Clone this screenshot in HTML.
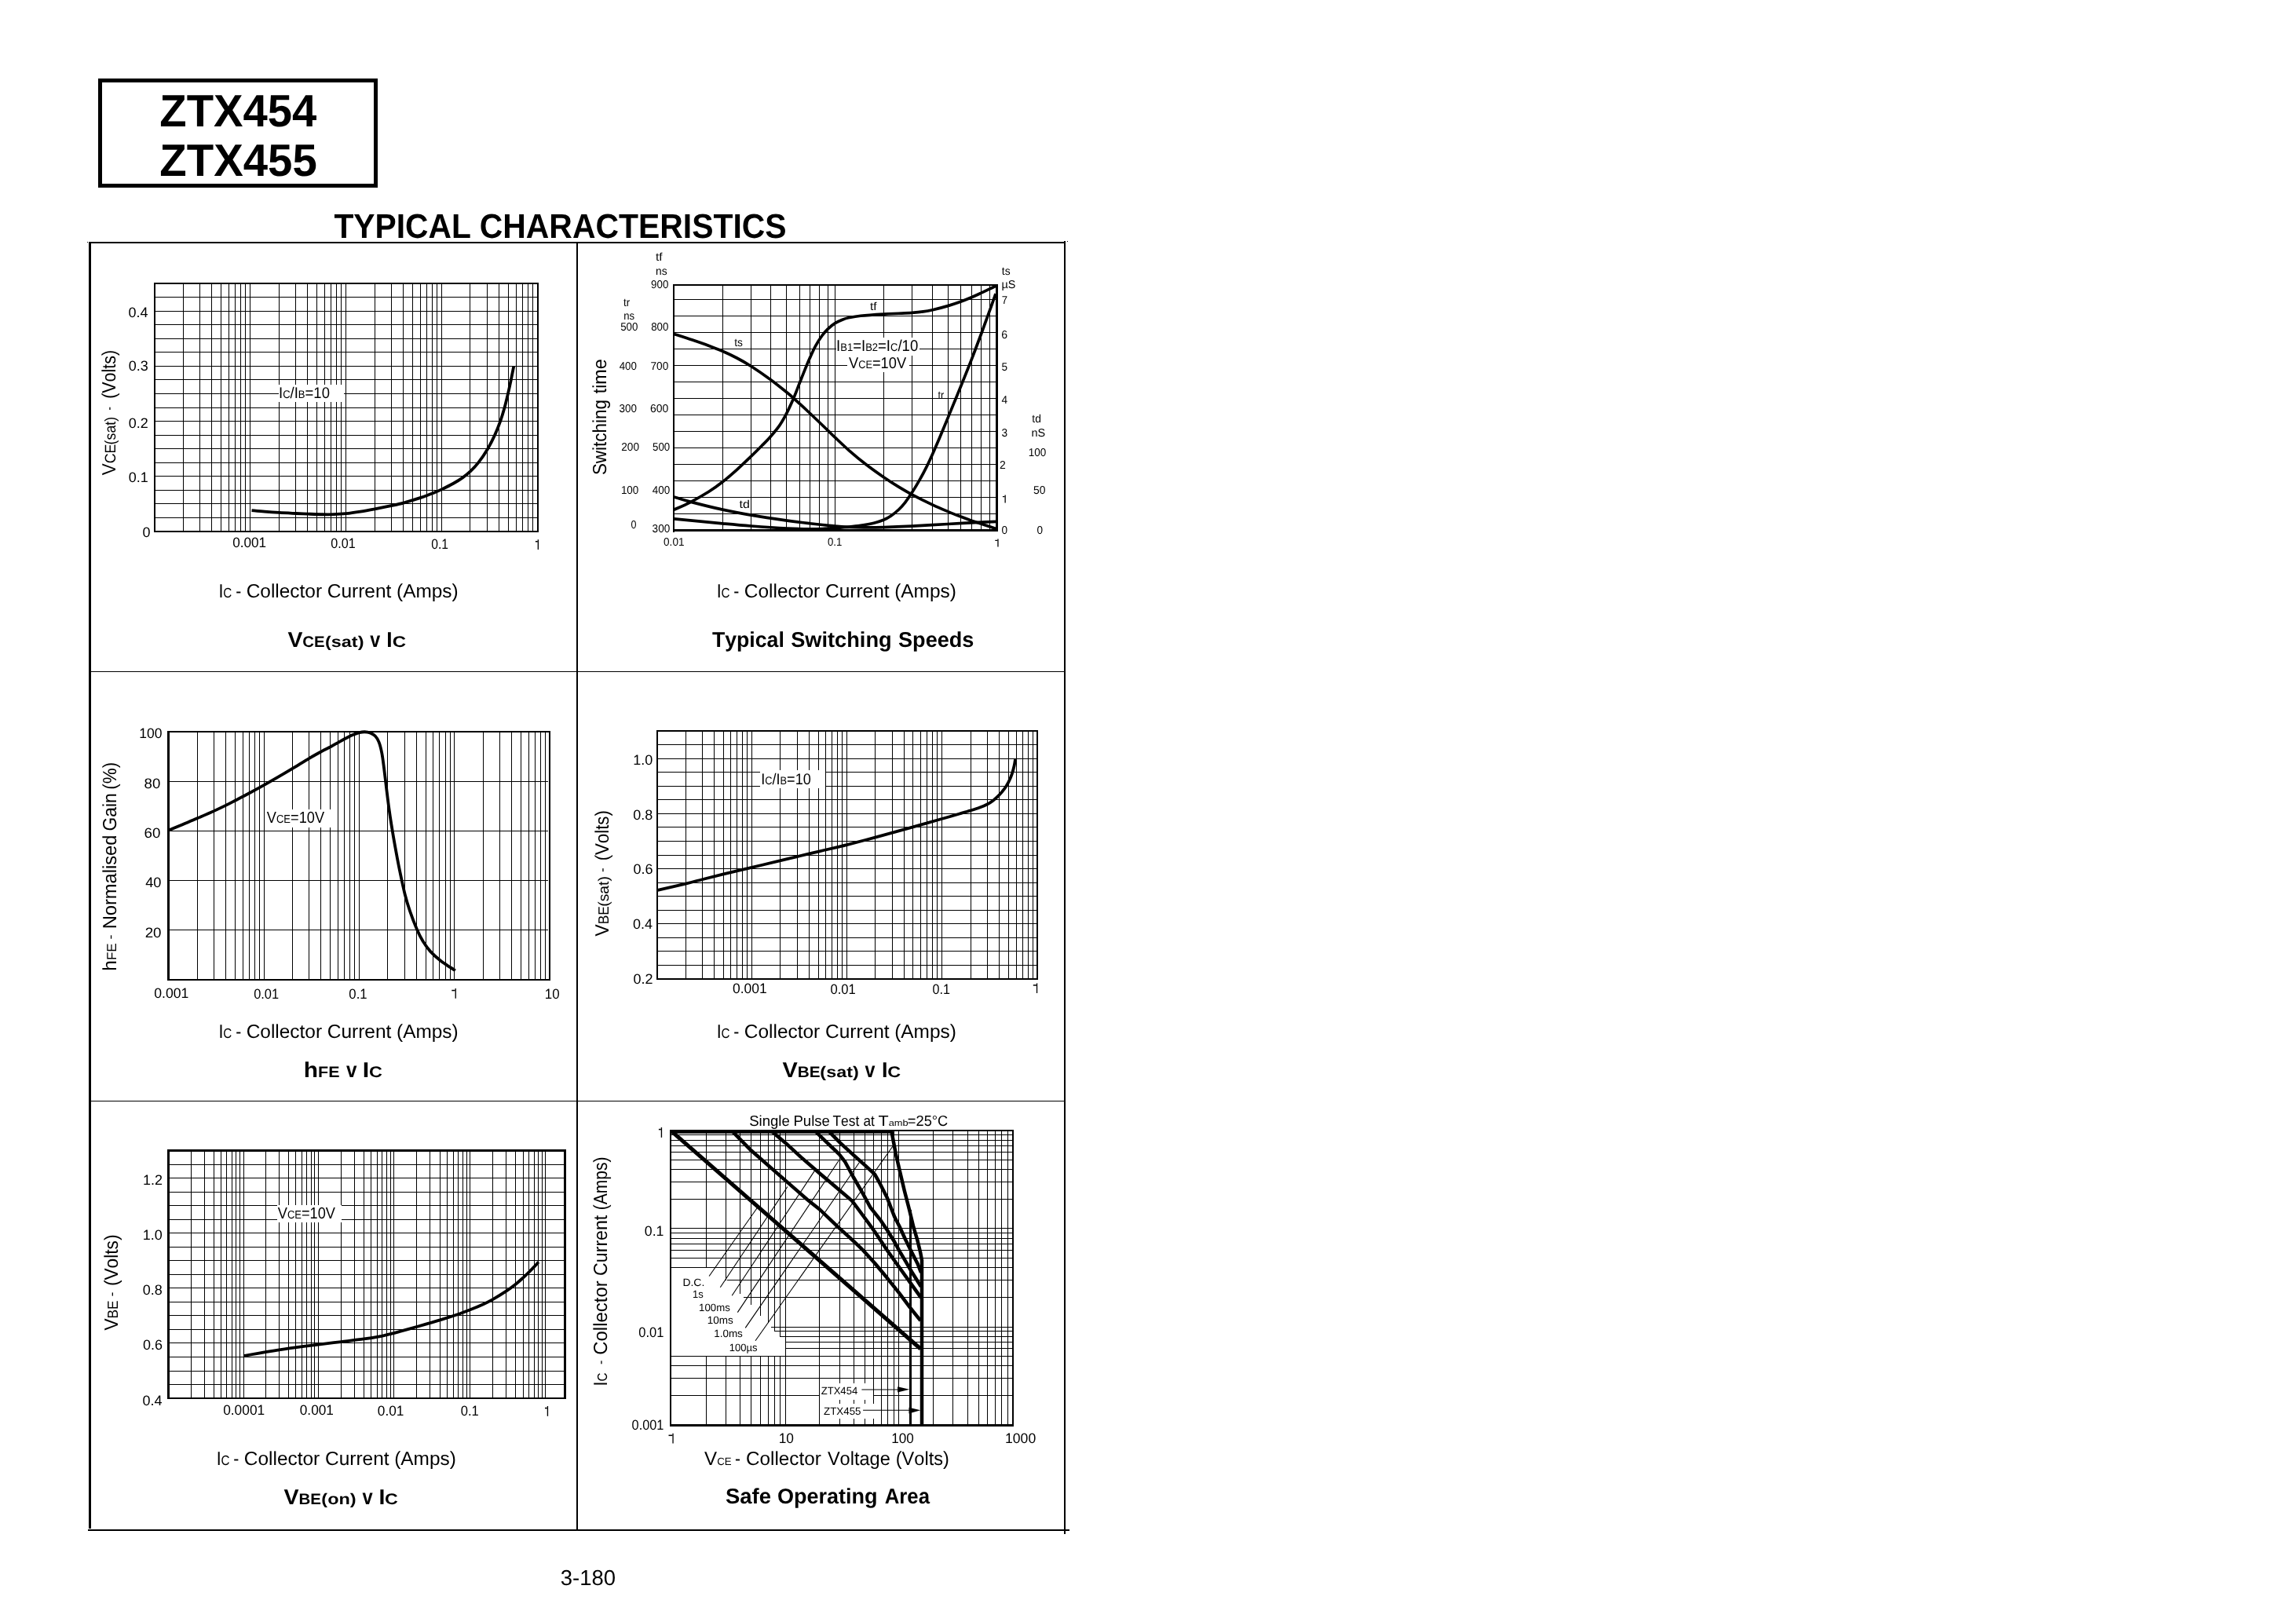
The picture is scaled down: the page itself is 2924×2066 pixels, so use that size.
<!DOCTYPE html>
<html><head><meta charset="utf-8"><title>ZTX454 ZTX455 Typical Characteristics</title>
<style>html,body{margin:0;padding:0;background:#fff;}svg{display:block;filter:grayscale(1);}text{font-family:"Liberation Sans",sans-serif;fill:#000;white-space:pre;font-kerning:none;text-rendering:geometricPrecision;}</style>
</head><body>
<svg width="2924" height="2066" viewBox="0 0 2924 2066">
<rect x="0" y="0" width="2924" height="2066" fill="#fff"/>
<g shape-rendering="crispEdges">
<rect x="125" y="100" width="356" height="5" fill="#000"/>
<rect x="125" y="234" width="356" height="5" fill="#000"/>
<rect x="125" y="100" width="5" height="139" fill="#000"/>
<rect x="476" y="100" width="5" height="139" fill="#000"/>
<rect x="113" y="308" width="3" height="1639" fill="#000"/>
<rect x="113" y="308" width="1244" height="2" fill="#000"/>
<rect x="1355" y="307" width="2" height="1647" fill="#000"/>
<rect x="112" y="1948" width="1250" height="2" fill="#000"/>
<rect x="734" y="310" width="2" height="1638" fill="#000"/>
<rect x="116" y="855" width="1239" height="1" fill="#000"/>
<rect x="116" y="1402" width="1239" height="1" fill="#000"/>
<rect x="111" y="308" width="1" height="1" fill="#000"/>
<rect x="1359" y="307" width="1" height="1" fill="#000"/>
<rect x="196" y="360" width="490" height="2" fill="#000"/>
<rect x="196" y="676" width="490" height="2" fill="#000"/>
<rect x="196" y="360" width="2" height="318" fill="#000"/>
<rect x="684" y="360" width="2" height="318" fill="#000"/>
<rect x="233" y="361" width="1" height="316" fill="#000"/>
<rect x="254" y="361" width="1" height="316" fill="#000"/>
<rect x="269" y="361" width="1" height="316" fill="#000"/>
<rect x="281" y="361" width="1" height="316" fill="#000"/>
<rect x="291" y="361" width="1" height="316" fill="#000"/>
<rect x="299" y="361" width="1" height="316" fill="#000"/>
<rect x="306" y="361" width="1" height="316" fill="#000"/>
<rect x="312" y="361" width="1" height="316" fill="#000"/>
<rect x="318" y="361" width="1" height="316" fill="#000"/>
<rect x="355" y="361" width="1" height="316" fill="#000"/>
<rect x="376" y="361" width="1" height="316" fill="#000"/>
<rect x="391" y="361" width="1" height="316" fill="#000"/>
<rect x="403" y="361" width="1" height="316" fill="#000"/>
<rect x="413" y="361" width="1" height="316" fill="#000"/>
<rect x="421" y="361" width="1" height="316" fill="#000"/>
<rect x="428" y="361" width="1" height="316" fill="#000"/>
<rect x="434" y="361" width="1" height="316" fill="#000"/>
<rect x="440" y="361" width="1" height="316" fill="#000"/>
<rect x="477" y="361" width="1" height="316" fill="#000"/>
<rect x="498" y="361" width="1" height="316" fill="#000"/>
<rect x="513" y="361" width="1" height="316" fill="#000"/>
<rect x="525" y="361" width="1" height="316" fill="#000"/>
<rect x="535" y="361" width="1" height="316" fill="#000"/>
<rect x="543" y="361" width="1" height="316" fill="#000"/>
<rect x="550" y="361" width="1" height="316" fill="#000"/>
<rect x="556" y="361" width="1" height="316" fill="#000"/>
<rect x="562" y="361" width="1" height="316" fill="#000"/>
<rect x="598" y="361" width="1" height="316" fill="#000"/>
<rect x="620" y="361" width="1" height="316" fill="#000"/>
<rect x="635" y="361" width="1" height="316" fill="#000"/>
<rect x="647" y="361" width="1" height="316" fill="#000"/>
<rect x="657" y="361" width="1" height="316" fill="#000"/>
<rect x="665" y="361" width="1" height="316" fill="#000"/>
<rect x="672" y="361" width="1" height="316" fill="#000"/>
<rect x="678" y="361" width="1" height="316" fill="#000"/>
<rect x="197" y="659" width="488" height="1" fill="#000"/>
<rect x="197" y="641" width="488" height="1" fill="#000"/>
<rect x="197" y="624" width="488" height="1" fill="#000"/>
<rect x="197" y="606" width="488" height="1" fill="#000"/>
<rect x="197" y="589" width="488" height="1" fill="#000"/>
<rect x="197" y="571" width="488" height="1" fill="#000"/>
<rect x="197" y="554" width="488" height="1" fill="#000"/>
<rect x="197" y="536" width="488" height="1" fill="#000"/>
<rect x="197" y="519" width="488" height="1" fill="#000"/>
<rect x="197" y="501" width="488" height="1" fill="#000"/>
<rect x="197" y="483" width="488" height="1" fill="#000"/>
<rect x="197" y="466" width="488" height="1" fill="#000"/>
<rect x="197" y="448" width="488" height="1" fill="#000"/>
<rect x="197" y="431" width="488" height="1" fill="#000"/>
<rect x="197" y="413" width="488" height="1" fill="#000"/>
<rect x="197" y="396" width="488" height="1" fill="#000"/>
<rect x="197" y="378" width="488" height="1" fill="#000"/>
<rect x="354.9" y="489.9" width="83.1" height="22.2" fill="#fff"/>
<rect x="857" y="362" width="414" height="2" fill="#000"/>
<rect x="857" y="674" width="414" height="3" fill="#000"/>
<rect x="857" y="362" width="2" height="316" fill="#000"/>
<rect x="1268" y="362" width="3" height="315" fill="#000"/>
<rect x="920" y="363" width="1" height="312.5" fill="#000"/>
<rect x="956" y="363" width="1" height="312.5" fill="#000"/>
<rect x="981" y="363" width="1" height="312.5" fill="#000"/>
<rect x="1001" y="363" width="1" height="312.5" fill="#000"/>
<rect x="1018" y="363" width="1" height="312.5" fill="#000"/>
<rect x="1031" y="363" width="1" height="312.5" fill="#000"/>
<rect x="1043" y="363" width="1" height="312.5" fill="#000"/>
<rect x="1054" y="363" width="1" height="312.5" fill="#000"/>
<rect x="1063" y="363" width="1" height="312.5" fill="#000"/>
<rect x="1125" y="363" width="1" height="312.5" fill="#000"/>
<rect x="1161" y="363" width="1" height="312.5" fill="#000"/>
<rect x="1187" y="363" width="1" height="312.5" fill="#000"/>
<rect x="1207" y="363" width="1" height="312.5" fill="#000"/>
<rect x="1223" y="363" width="1" height="312.5" fill="#000"/>
<rect x="1237" y="363" width="1" height="312.5" fill="#000"/>
<rect x="1249" y="363" width="1" height="312.5" fill="#000"/>
<rect x="1260" y="363" width="1" height="312.5" fill="#000"/>
<rect x="858" y="654" width="412" height="1" fill="#000"/>
<rect x="858" y="633" width="412" height="1" fill="#000"/>
<rect x="858" y="612" width="412" height="1" fill="#000"/>
<rect x="858" y="591" width="412" height="1" fill="#000"/>
<rect x="858" y="570" width="412" height="1" fill="#000"/>
<rect x="858" y="549" width="412" height="1" fill="#000"/>
<rect x="858" y="528" width="412" height="1" fill="#000"/>
<rect x="858" y="507" width="412" height="1" fill="#000"/>
<rect x="858" y="486" width="412" height="1" fill="#000"/>
<rect x="858" y="465" width="412" height="1" fill="#000"/>
<rect x="858" y="444" width="412" height="1" fill="#000"/>
<rect x="858" y="423" width="412" height="1" fill="#000"/>
<rect x="858" y="402" width="412" height="1" fill="#000"/>
<rect x="858" y="381" width="412" height="1" fill="#000"/>
<rect x="1064.6" y="429.6" width="106.4" height="23.5" fill="#fff"/>
<rect x="1079" y="453" width="78.9" height="21.1" fill="#fff"/>
<rect x="213" y="931" width="488" height="2" fill="#000"/>
<rect x="213" y="1247" width="488" height="2" fill="#000"/>
<rect x="213" y="931" width="3" height="318" fill="#000"/>
<rect x="699" y="931" width="2" height="318" fill="#000"/>
<rect x="251" y="932.3" width="1" height="315.1" fill="#000"/>
<rect x="272" y="932.3" width="1" height="315.1" fill="#000"/>
<rect x="287" y="932.3" width="1" height="315.1" fill="#000"/>
<rect x="299" y="932.3" width="1" height="315.1" fill="#000"/>
<rect x="309" y="932.3" width="1" height="315.1" fill="#000"/>
<rect x="317" y="932.3" width="1" height="315.1" fill="#000"/>
<rect x="324" y="932.3" width="1" height="315.1" fill="#000"/>
<rect x="330" y="932.3" width="1" height="315.1" fill="#000"/>
<rect x="336" y="932.3" width="1" height="315.1" fill="#000"/>
<rect x="372" y="932.3" width="1" height="315.1" fill="#000"/>
<rect x="393" y="932.3" width="1" height="315.1" fill="#000"/>
<rect x="408" y="932.3" width="1" height="315.1" fill="#000"/>
<rect x="420" y="932.3" width="1" height="315.1" fill="#000"/>
<rect x="430" y="932.3" width="1" height="315.1" fill="#000"/>
<rect x="438" y="932.3" width="1" height="315.1" fill="#000"/>
<rect x="445" y="932.3" width="1" height="315.1" fill="#000"/>
<rect x="451" y="932.3" width="1" height="315.1" fill="#000"/>
<rect x="457" y="932.3" width="1" height="315.1" fill="#000"/>
<rect x="493" y="932.3" width="1" height="315.1" fill="#000"/>
<rect x="515" y="932.3" width="1" height="315.1" fill="#000"/>
<rect x="530" y="932.3" width="1" height="315.1" fill="#000"/>
<rect x="542" y="932.3" width="1" height="315.1" fill="#000"/>
<rect x="551" y="932.3" width="1" height="315.1" fill="#000"/>
<rect x="559" y="932.3" width="1" height="315.1" fill="#000"/>
<rect x="567" y="932.3" width="1" height="315.1" fill="#000"/>
<rect x="573" y="932.3" width="1" height="315.1" fill="#000"/>
<rect x="578" y="932.3" width="1" height="315.1" fill="#000"/>
<rect x="615" y="932.3" width="1" height="315.1" fill="#000"/>
<rect x="636" y="932.3" width="1" height="315.1" fill="#000"/>
<rect x="651" y="932.3" width="1" height="315.1" fill="#000"/>
<rect x="663" y="932.3" width="1" height="315.1" fill="#000"/>
<rect x="673" y="932.3" width="1" height="315.1" fill="#000"/>
<rect x="681" y="932.3" width="1" height="315.1" fill="#000"/>
<rect x="688" y="932.3" width="1" height="315.1" fill="#000"/>
<rect x="694" y="932.3" width="1" height="315.1" fill="#000"/>
<rect x="215" y="1184" width="482.6" height="1" fill="#000"/>
<rect x="215" y="1121" width="482.6" height="1" fill="#000"/>
<rect x="215" y="1058" width="482.6" height="1" fill="#000"/>
<rect x="215" y="995" width="482.6" height="1" fill="#000"/>
<rect x="338" y="1030.7" width="85" height="23.2" fill="#fff"/>
<rect x="836" y="930" width="486" height="2" fill="#000"/>
<rect x="836" y="1246" width="486" height="2" fill="#000"/>
<rect x="836" y="930" width="2" height="318" fill="#000"/>
<rect x="1320" y="930" width="2" height="318" fill="#000"/>
<rect x="873" y="931.1" width="1" height="315.8" fill="#000"/>
<rect x="894" y="931.1" width="1" height="315.8" fill="#000"/>
<rect x="909" y="931.1" width="1" height="315.8" fill="#000"/>
<rect x="921" y="931.1" width="1" height="315.8" fill="#000"/>
<rect x="930" y="931.1" width="1" height="315.8" fill="#000"/>
<rect x="938" y="931.1" width="1" height="315.8" fill="#000"/>
<rect x="945" y="931.1" width="1" height="315.8" fill="#000"/>
<rect x="951" y="931.1" width="1" height="315.8" fill="#000"/>
<rect x="957" y="931.1" width="1" height="315.8" fill="#000"/>
<rect x="993" y="931.1" width="1" height="315.8" fill="#000"/>
<rect x="1015" y="931.1" width="1" height="315.8" fill="#000"/>
<rect x="1030" y="931.1" width="1" height="315.8" fill="#000"/>
<rect x="1042" y="931.1" width="1" height="315.8" fill="#000"/>
<rect x="1051" y="931.1" width="1" height="315.8" fill="#000"/>
<rect x="1059" y="931.1" width="1" height="315.8" fill="#000"/>
<rect x="1066" y="931.1" width="1" height="315.8" fill="#000"/>
<rect x="1072" y="931.1" width="1" height="315.8" fill="#000"/>
<rect x="1078" y="931.1" width="1" height="315.8" fill="#000"/>
<rect x="1114" y="931.1" width="1" height="315.8" fill="#000"/>
<rect x="1136" y="931.1" width="1" height="315.8" fill="#000"/>
<rect x="1151" y="931.1" width="1" height="315.8" fill="#000"/>
<rect x="1162" y="931.1" width="1" height="315.8" fill="#000"/>
<rect x="1172" y="931.1" width="1" height="315.8" fill="#000"/>
<rect x="1180" y="931.1" width="1" height="315.8" fill="#000"/>
<rect x="1187" y="931.1" width="1" height="315.8" fill="#000"/>
<rect x="1193" y="931.1" width="1" height="315.8" fill="#000"/>
<rect x="1199" y="931.1" width="1" height="315.8" fill="#000"/>
<rect x="1236" y="931.1" width="1" height="315.8" fill="#000"/>
<rect x="1257" y="931.1" width="1" height="315.8" fill="#000"/>
<rect x="1272" y="931.1" width="1" height="315.8" fill="#000"/>
<rect x="1284" y="931.1" width="1" height="315.8" fill="#000"/>
<rect x="1294" y="931.1" width="1" height="315.8" fill="#000"/>
<rect x="1302" y="931.1" width="1" height="315.8" fill="#000"/>
<rect x="1309" y="931.1" width="1" height="315.8" fill="#000"/>
<rect x="1315" y="931.1" width="1" height="315.8" fill="#000"/>
<rect x="836.8" y="1229" width="484.4" height="1" fill="#000"/>
<rect x="836.8" y="1211" width="484.4" height="1" fill="#000"/>
<rect x="836.8" y="1194" width="484.4" height="1" fill="#000"/>
<rect x="836.8" y="1176" width="484.4" height="1" fill="#000"/>
<rect x="836.8" y="1159" width="484.4" height="1" fill="#000"/>
<rect x="836.8" y="1141" width="484.4" height="1" fill="#000"/>
<rect x="836.8" y="1124" width="484.4" height="1" fill="#000"/>
<rect x="836.8" y="1106" width="484.4" height="1" fill="#000"/>
<rect x="836.8" y="1089" width="484.4" height="1" fill="#000"/>
<rect x="836.8" y="1071" width="484.4" height="1" fill="#000"/>
<rect x="836.8" y="1053" width="484.4" height="1" fill="#000"/>
<rect x="836.8" y="1036" width="484.4" height="1" fill="#000"/>
<rect x="836.8" y="1018" width="484.4" height="1" fill="#000"/>
<rect x="836.8" y="1001" width="484.4" height="1" fill="#000"/>
<rect x="836.8" y="983" width="484.4" height="1" fill="#000"/>
<rect x="836.8" y="966" width="484.4" height="1" fill="#000"/>
<rect x="836.8" y="948" width="484.4" height="1" fill="#000"/>
<rect x="968" y="980.7" width="82.9" height="23.2" fill="#fff"/>
<rect x="213" y="1464" width="508" height="3" fill="#000"/>
<rect x="213" y="1780" width="508" height="2" fill="#000"/>
<rect x="213" y="1464" width="3" height="318" fill="#000"/>
<rect x="718" y="1464" width="3" height="318" fill="#000"/>
<rect x="243" y="1465.6" width="1" height="315.5" fill="#000"/>
<rect x="260" y="1465.6" width="1" height="315.5" fill="#000"/>
<rect x="272" y="1465.6" width="1" height="315.5" fill="#000"/>
<rect x="281" y="1465.6" width="1" height="315.5" fill="#000"/>
<rect x="288" y="1465.6" width="1" height="315.5" fill="#000"/>
<rect x="295" y="1465.6" width="1" height="315.5" fill="#000"/>
<rect x="300" y="1465.6" width="1" height="315.5" fill="#000"/>
<rect x="305" y="1465.6" width="1" height="315.5" fill="#000"/>
<rect x="310" y="1465.6" width="1" height="315.5" fill="#000"/>
<rect x="338" y="1465.6" width="1" height="315.5" fill="#000"/>
<rect x="355" y="1465.6" width="1" height="315.5" fill="#000"/>
<rect x="367" y="1465.6" width="1" height="315.5" fill="#000"/>
<rect x="376" y="1465.6" width="1" height="315.5" fill="#000"/>
<rect x="384" y="1465.6" width="1" height="315.5" fill="#000"/>
<rect x="390" y="1465.6" width="1" height="315.5" fill="#000"/>
<rect x="396" y="1465.6" width="1" height="315.5" fill="#000"/>
<rect x="400" y="1465.6" width="1" height="315.5" fill="#000"/>
<rect x="405" y="1465.6" width="1" height="315.5" fill="#000"/>
<rect x="434" y="1465.6" width="1" height="315.5" fill="#000"/>
<rect x="451" y="1465.6" width="1" height="315.5" fill="#000"/>
<rect x="463" y="1465.6" width="1" height="315.5" fill="#000"/>
<rect x="472" y="1465.6" width="1" height="315.5" fill="#000"/>
<rect x="480" y="1465.6" width="1" height="315.5" fill="#000"/>
<rect x="486" y="1465.6" width="1" height="315.5" fill="#000"/>
<rect x="492" y="1465.6" width="1" height="315.5" fill="#000"/>
<rect x="497" y="1465.6" width="1" height="315.5" fill="#000"/>
<rect x="501" y="1465.6" width="1" height="315.5" fill="#000"/>
<rect x="530" y="1465.6" width="1" height="315.5" fill="#000"/>
<rect x="547" y="1465.6" width="1" height="315.5" fill="#000"/>
<rect x="560" y="1465.6" width="1" height="315.5" fill="#000"/>
<rect x="569" y="1465.6" width="1" height="315.5" fill="#000"/>
<rect x="577" y="1465.6" width="1" height="315.5" fill="#000"/>
<rect x="583" y="1465.6" width="1" height="315.5" fill="#000"/>
<rect x="589" y="1465.6" width="1" height="315.5" fill="#000"/>
<rect x="594" y="1465.6" width="1" height="315.5" fill="#000"/>
<rect x="598" y="1465.6" width="1" height="315.5" fill="#000"/>
<rect x="627" y="1465.6" width="1" height="315.5" fill="#000"/>
<rect x="644" y="1465.6" width="1" height="315.5" fill="#000"/>
<rect x="656" y="1465.6" width="1" height="315.5" fill="#000"/>
<rect x="666" y="1465.6" width="1" height="315.5" fill="#000"/>
<rect x="673" y="1465.6" width="1" height="315.5" fill="#000"/>
<rect x="680" y="1465.6" width="1" height="315.5" fill="#000"/>
<rect x="685" y="1465.6" width="1" height="315.5" fill="#000"/>
<rect x="690" y="1465.6" width="1" height="315.5" fill="#000"/>
<rect x="694" y="1465.6" width="1" height="315.5" fill="#000"/>
<rect x="214.9" y="1763" width="504.4" height="1" fill="#000"/>
<rect x="214.9" y="1746" width="504.4" height="1" fill="#000"/>
<rect x="214.9" y="1728" width="504.4" height="1" fill="#000"/>
<rect x="214.9" y="1710" width="504.4" height="1" fill="#000"/>
<rect x="214.9" y="1693" width="504.4" height="1" fill="#000"/>
<rect x="214.9" y="1675" width="504.4" height="1" fill="#000"/>
<rect x="214.9" y="1658" width="504.4" height="1" fill="#000"/>
<rect x="214.9" y="1640" width="504.4" height="1" fill="#000"/>
<rect x="214.9" y="1623" width="504.4" height="1" fill="#000"/>
<rect x="214.9" y="1605" width="504.4" height="1" fill="#000"/>
<rect x="214.9" y="1588" width="504.4" height="1" fill="#000"/>
<rect x="214.9" y="1570" width="504.4" height="1" fill="#000"/>
<rect x="214.9" y="1553" width="504.4" height="1" fill="#000"/>
<rect x="214.9" y="1535" width="504.4" height="1" fill="#000"/>
<rect x="214.9" y="1518" width="504.4" height="1" fill="#000"/>
<rect x="214.9" y="1500" width="504.4" height="1" fill="#000"/>
<rect x="214.9" y="1483" width="504.4" height="1" fill="#000"/>
<rect x="353" y="1535" width="82.1" height="22.1" fill="#fff"/>
<rect x="853" y="1439" width="2" height="378" fill="#000"/>
<rect x="1289" y="1439" width="2" height="378" fill="#000"/>
<rect x="853" y="1439" width="438" height="2" fill="#000"/>
<rect x="853" y="1814" width="438" height="3" fill="#000"/>
<rect x="899" y="1440" width="1" height="174.5" fill="#000"/>
<rect x="899" y="1727.2" width="1" height="88.3" fill="#000"/>
<rect x="924" y="1440" width="1" height="190.5" fill="#000"/>
<rect x="924" y="1727.2" width="1" height="88.3" fill="#000"/>
<rect x="942" y="1440" width="1" height="207.5" fill="#000"/>
<rect x="942" y="1727.2" width="1" height="88.3" fill="#000"/>
<rect x="956" y="1440" width="1" height="222.4" fill="#000"/>
<rect x="956" y="1727.2" width="1" height="88.3" fill="#000"/>
<rect x="968" y="1440" width="1" height="235.8" fill="#000"/>
<rect x="968" y="1727.2" width="1" height="88.3" fill="#000"/>
<rect x="978" y="1440" width="1" height="245" fill="#000"/>
<rect x="978" y="1727.2" width="1" height="88.3" fill="#000"/>
<rect x="986" y="1440" width="1" height="255" fill="#000"/>
<rect x="986" y="1727.2" width="1" height="88.3" fill="#000"/>
<rect x="993" y="1440" width="1" height="262.2" fill="#000"/>
<rect x="993" y="1727.2" width="1" height="88.3" fill="#000"/>
<rect x="1000" y="1440" width="1" height="375.5" fill="#000"/>
<rect x="1043" y="1440" width="1" height="375.5" fill="#000"/>
<rect x="1069" y="1440" width="1" height="322" fill="#000"/>
<rect x="1069" y="1782.5" width="1" height="5" fill="#000"/>
<rect x="1069" y="1807" width="1" height="8.5" fill="#000"/>
<rect x="1087" y="1440" width="1" height="322" fill="#000"/>
<rect x="1087" y="1782.5" width="1" height="5" fill="#000"/>
<rect x="1087" y="1807" width="1" height="8.5" fill="#000"/>
<rect x="1101" y="1440" width="1" height="322" fill="#000"/>
<rect x="1101" y="1782.5" width="1" height="5" fill="#000"/>
<rect x="1101" y="1807" width="1" height="8.5" fill="#000"/>
<rect x="1112" y="1440" width="1" height="347.5" fill="#000"/>
<rect x="1112" y="1807" width="1" height="8.5" fill="#000"/>
<rect x="1122" y="1440" width="1" height="375.5" fill="#000"/>
<rect x="1130" y="1440" width="1" height="375.5" fill="#000"/>
<rect x="1138" y="1440" width="1" height="375.5" fill="#000"/>
<rect x="1144" y="1440" width="1" height="375.5" fill="#000"/>
<rect x="1188" y="1440" width="1" height="375.5" fill="#000"/>
<rect x="1213" y="1440" width="1" height="375.5" fill="#000"/>
<rect x="1232" y="1440" width="1" height="375.5" fill="#000"/>
<rect x="1246" y="1440" width="1" height="375.5" fill="#000"/>
<rect x="1257" y="1440" width="1" height="375.5" fill="#000"/>
<rect x="1267" y="1440" width="1" height="375.5" fill="#000"/>
<rect x="1275" y="1440" width="1" height="375.5" fill="#000"/>
<rect x="1283" y="1440" width="1" height="375.5" fill="#000"/>
<rect x="854" y="1445" width="436" height="1" fill="#000"/>
<rect x="854" y="1452" width="436" height="1" fill="#000"/>
<rect x="854" y="1459" width="436" height="1" fill="#000"/>
<rect x="854" y="1467" width="436" height="1" fill="#000"/>
<rect x="854" y="1477" width="436" height="1" fill="#000"/>
<rect x="854" y="1489" width="436" height="1" fill="#000"/>
<rect x="854" y="1505" width="436" height="1" fill="#000"/>
<rect x="854" y="1527" width="436" height="1" fill="#000"/>
<rect x="854" y="1564" width="436" height="1" fill="#000"/>
<rect x="854" y="1570" width="436" height="1" fill="#000"/>
<rect x="854" y="1577" width="436" height="1" fill="#000"/>
<rect x="854" y="1584" width="436" height="1" fill="#000"/>
<rect x="854" y="1592" width="436" height="1" fill="#000"/>
<rect x="854" y="1602" width="436" height="1" fill="#000"/>
<rect x="854" y="1614" width="436" height="1" fill="#000"/>
<rect x="926" y="1630" width="364" height="1" fill="#000"/>
<rect x="947" y="1652" width="343" height="1" fill="#000"/>
<rect x="981.8" y="1690" width="308.2" height="1" fill="#000"/>
<rect x="986" y="1695" width="304" height="1" fill="#000"/>
<rect x="993" y="1702" width="297" height="1" fill="#000"/>
<rect x="1000" y="1709" width="290" height="1" fill="#000"/>
<rect x="1000" y="1717" width="290" height="1" fill="#000"/>
<rect x="854" y="1727" width="436" height="1" fill="#000"/>
<rect x="854" y="1739" width="436" height="1" fill="#000"/>
<rect x="854" y="1755" width="436" height="1" fill="#000"/>
<rect x="854" y="1777" width="190" height="1" fill="#000"/>
<rect x="1112" y="1777" width="178" height="1" fill="#000"/>
</g>
<g>
<path d="M320.5 650.1 C323.25 650.36 331.16 651.18 337.01 651.66 C342.86 652.13 348.94 652.57 355.61 652.96 C362.27 653.35 370.84 653.7 377 653.98 C383.17 654.26 386.98 654.44 392.6 654.65 C398.22 654.86 405.3 655.15 410.7 655.25 C416.1 655.34 420.04 655.38 425 655.21 C429.95 655.03 434.78 654.79 440.45 654.18 C446.11 653.58 452.82 652.58 458.98 651.6 C465.14 650.62 470.64 649.58 477.4 648.3 C484.16 647.02 493.34 645.27 499.54 643.94 C505.75 642.61 508.61 641.98 514.65 640.31 C520.68 638.63 529.47 636 535.77 633.91 C542.07 631.82 547.99 629.51 552.44 627.75 C556.89 626 558.28 625.37 562.44 623.38 C566.6 621.38 572.95 618.27 577.41 615.76 C581.88 613.26 585.61 610.94 589.24 608.34 C592.88 605.75 595.86 603.44 599.23 600.21 C602.61 596.98 605.84 593.75 609.51 588.95 C613.18 584.16 617.79 577.33 621.27 571.45 C624.75 565.57 627.69 559.55 630.37 553.66 C633.04 547.78 635.32 541.78 637.32 536.14 C639.32 530.49 640.78 525.57 642.38 519.79 C643.99 514 645.57 507.32 646.96 501.41 C648.34 495.51 649.48 490.21 650.7 484.36 C651.92 478.51 653.7 469.31 654.3 466.3" fill="none" stroke="#000" stroke-width="3.8" stroke-linejoin="round" stroke-linecap="butt"/>
<path d="M858.4 425.5 C862.3 426.76 874.39 430.58 881.81 433.08 C889.22 435.58 896.53 438.11 902.91 440.48 C909.29 442.85 914.17 444.71 920.09 447.3 C926 449.88 932.38 452.84 938.4 456 C944.41 459.16 949.03 461.67 956.16 466.25 C963.29 470.83 973.52 477.86 981.21 483.49 C988.89 489.13 997.18 495.9 1002.29 500.03 C1007.39 504.17 1007 503.91 1011.83 508.28 C1016.66 512.64 1024.23 519.58 1031.28 526.23 C1038.33 532.88 1048.74 542.96 1054.14 548.16 C1059.54 553.36 1059.11 553.1 1063.69 557.41 C1068.27 561.72 1075.11 568.35 1081.63 574.04 C1088.15 579.74 1095.47 585.91 1102.8 591.58 C1110.13 597.24 1118.68 603.26 1125.62 608.03 C1132.55 612.8 1138.42 616.51 1144.44 620.18 C1150.45 623.85 1154.45 626.24 1161.69 630.06 C1168.92 633.88 1180.24 639.5 1187.84 643.1 C1195.44 646.7 1201.33 649.13 1207.27 651.63 C1213.21 654.13 1218.5 656.18 1223.5 658.1 C1228.5 660.03 1233.01 661.69 1237.28 663.18 C1241.54 664.68 1245.39 665.88 1249.1 667.08 C1252.82 668.29 1256.16 669.29 1259.56 670.41 C1262.96 671.53 1267.84 673.24 1269.5 673.8" fill="none" stroke="#000" stroke-width="3.7" stroke-linejoin="round" stroke-linecap="butt"/>
<path d="M858.4 649.3 C861.9 647.68 872.05 643.39 879.43 639.56 C886.8 635.72 895.9 630.56 902.65 626.3 C909.39 622.04 913.95 618.67 919.9 614 C925.86 609.33 932.32 603.71 938.39 598.28 C944.46 592.85 951.09 586.48 956.34 581.44 C961.6 576.4 965.79 572.24 969.94 568.04 C974.08 563.84 977.46 560.51 981.21 556.24 C984.96 551.96 989.33 546.77 992.45 542.41 C995.56 538.05 997.65 534.19 999.89 530.1 C1002.13 526 1004.02 521.88 1005.91 517.85 C1007.8 513.82 1009.21 510.81 1011.23 505.91 C1013.26 501.01 1015.89 494 1018.08 488.44 C1020.27 482.89 1022.14 478.02 1024.37 472.59 C1026.59 467.15 1029.04 461.17 1031.43 455.81 C1033.83 450.46 1036.21 445.13 1038.76 440.46 C1041.31 435.79 1044.09 431.42 1046.74 427.78 C1049.4 424.13 1051.81 421.32 1054.68 418.59 C1057.55 415.87 1060.95 413.32 1063.96 411.41 C1066.97 409.51 1069.84 408.31 1072.76 407.16 C1075.69 406.02 1077.61 405.38 1081.51 404.56 C1085.41 403.74 1088.82 402.99 1096.15 402.25 C1103.48 401.5 1117.48 400.58 1125.51 400.09 C1133.53 399.59 1138.3 399.55 1144.3 399.26 C1150.29 398.98 1156.24 398.76 1161.48 398.38 C1166.73 397.99 1171.41 397.55 1175.77 396.95 C1180.12 396.35 1182.4 395.99 1187.63 394.77 C1192.85 393.54 1201.18 391.35 1207.14 389.61 C1213.1 387.86 1218.38 386.08 1223.38 384.28 C1228.39 382.48 1232.88 380.61 1237.16 378.8 C1241.44 376.99 1245.32 375.16 1249.07 373.43 C1252.81 371.69 1256.2 370.04 1259.6 368.4 C1263.01 366.76 1267.85 364.4 1269.5 363.6" fill="none" stroke="#000" stroke-width="3.7" stroke-linejoin="round" stroke-linecap="butt"/>
<path d="M858.4 633 C862.34 634.14 871.69 637.16 882.02 639.85 C892.36 642.55 907.99 646.47 920.41 649.17 C932.84 651.87 942.89 653.74 956.56 656.06 C970.23 658.38 989.95 661.29 1002.43 663.07 C1014.91 664.86 1021.22 665.58 1031.42 666.76 C1041.61 667.94 1055.52 669.37 1063.62 670.13 C1071.71 670.88 1073.95 671 1080.01 671.28 C1086.07 671.57 1092.42 671.77 1100 671.82 C1107.58 671.86 1115.25 671.85 1125.49 671.57 C1135.74 671.29 1147.9 670.83 1161.49 670.15 C1175.07 669.47 1194.41 668.23 1207 667.5 C1219.59 666.78 1226.59 666.32 1237.01 665.78 C1247.43 665.25 1264.08 664.55 1269.5 664.3" fill="none" stroke="#000" stroke-width="3.7" stroke-linejoin="round" stroke-linecap="butt"/>
<path d="M858.4 660.9 C868.72 661.89 903.95 665.35 920.3 666.87 C936.66 668.38 942.84 668.97 956.52 669.99 C970.21 671.01 989.93 672.33 1002.41 672.98 C1014.89 673.62 1023.47 673.77 1031.4 673.84 C1039.33 673.91 1044.63 673.6 1049.99 673.38 C1055.36 673.16 1058.37 672.9 1063.6 672.52 C1068.83 672.14 1075.97 671.63 1081.38 671.11 C1086.79 670.58 1090.83 670.17 1096.06 669.36 C1101.3 668.55 1107.96 667.41 1112.82 666.23 C1117.67 665.06 1121.61 663.8 1125.2 662.31 C1128.8 660.82 1131.2 659.48 1134.4 657.3 C1137.59 655.13 1141.33 652.13 1144.38 649.25 C1147.42 646.38 1149.84 643.65 1152.66 640.04 C1155.49 636.43 1158.2 632.45 1161.32 627.59 C1164.44 622.72 1168.3 616.29 1171.38 610.87 C1174.45 605.46 1177.07 600.49 1179.77 595.09 C1182.47 589.68 1184.76 584.71 1187.57 578.44 C1190.39 572.18 1193.39 565.16 1196.65 557.48 C1199.91 549.8 1203.94 540.04 1207.11 532.36 C1210.28 524.69 1212.95 518.08 1215.68 511.43 C1218.4 504.78 1219.92 501.24 1223.45 492.48 C1226.99 483.72 1232.61 469.88 1236.89 458.88 C1241.17 447.89 1245.37 436.63 1249.13 426.51 C1252.9 416.39 1256.33 406.89 1259.47 398.15 C1262.62 389.42 1266.58 378.11 1268 374.1" fill="none" stroke="#000" stroke-width="3.7" stroke-linejoin="round" stroke-linecap="butt"/>
<path d="M214.9 1057.6 C217.84 1056.36 226.47 1052.69 232.52 1050.14 C238.56 1047.6 244.46 1045.2 251.17 1042.32 C257.87 1039.44 266.7 1035.62 272.75 1032.88 C278.79 1030.14 282.99 1028.09 287.45 1025.9 C291.91 1023.7 294.5 1022.32 299.5 1019.71 C304.51 1017.1 311.39 1013.5 317.46 1010.23 C323.54 1006.97 329.82 1003.55 335.96 1000.12 C342.09 996.7 348.2 993.22 354.29 989.68 C360.38 986.15 365.96 982.87 372.5 978.93 C379.04 974.99 387.36 969.66 393.53 966.02 C399.7 962.38 404.93 959.57 409.5 957.1 C414.08 954.64 417.46 953.13 420.96 951.25 C424.47 949.36 427.59 947.46 430.55 945.79 C433.51 944.12 435.6 942.87 438.73 941.25 C441.85 939.63 446.18 937.39 449.31 936.05 C452.43 934.7 454.96 933.81 457.47 933.18 C459.99 932.55 462.09 932.21 464.4 932.26 C466.71 932.31 469.09 932.6 471.33 933.49 C473.57 934.37 475.97 935.59 477.85 937.56 C479.73 939.54 481.2 941.72 482.61 945.34 C484.02 948.95 485.24 953.83 486.31 959.27 C487.37 964.72 488.03 970.6 488.99 978 C489.96 985.41 491.08 995.5 492.09 1003.7 C493.1 1011.9 493.97 1019.37 495.04 1027.18 C496.11 1035 497.12 1042 498.49 1050.59 C499.86 1059.17 501.48 1068.91 503.25 1078.67 C505.01 1088.44 506.99 1099.05 509.08 1109.18 C511.17 1119.32 513.6 1130.91 515.77 1139.48 C517.94 1148.05 519.54 1153.19 522.09 1160.6 C524.63 1168.01 528.28 1177.53 531.04 1183.95 C533.81 1190.37 535.85 1194.46 538.69 1199.1 C541.53 1203.75 544.41 1207.77 548.11 1211.85 C551.8 1215.92 556.62 1220.17 560.84 1223.56 C565.05 1226.95 570.24 1230.07 573.42 1232.17 C576.59 1234.28 578.82 1235.53 579.9 1236.2" fill="none" stroke="#000" stroke-width="3.8" stroke-linejoin="round" stroke-linecap="butt"/>
<path d="M837.5 1133.8 C843.46 1132.42 863.68 1127.83 873.28 1125.53 C882.88 1123.23 887.06 1122.01 895.08 1119.99 C903.1 1117.98 911 1115.94 921.41 1113.42 C931.81 1110.91 945.39 1107.78 957.5 1104.9 C969.61 1102.03 984.45 1098.48 994.07 1096.17 C1003.69 1093.86 1007.15 1092.98 1015.24 1091.05 C1023.32 1089.11 1033.92 1086.57 1042.59 1084.54 C1051.25 1082.5 1061.25 1080.23 1067.23 1078.83 C1073.21 1077.43 1070.4 1078.21 1078.44 1076.14 C1086.48 1074.07 1103.25 1069.7 1115.48 1066.41 C1127.7 1063.11 1140.65 1059.47 1151.79 1056.37 C1162.93 1053.28 1174.38 1050.06 1182.31 1047.84 C1190.24 1045.61 1192.75 1044.92 1199.38 1043.03 C1206.01 1041.13 1215.96 1038.26 1222.09 1036.47 C1228.23 1034.68 1231.92 1033.62 1236.2 1032.3 C1240.48 1030.97 1244.3 1029.8 1247.79 1028.51 C1251.29 1027.21 1254.45 1025.9 1257.16 1024.52 C1259.86 1023.14 1261.5 1022.17 1264.02 1020.22 C1266.54 1018.28 1269.73 1015.46 1272.26 1012.87 C1274.79 1010.28 1277.21 1007.42 1279.21 1004.69 C1281.21 1001.95 1282.69 999.59 1284.26 996.48 C1285.84 993.37 1287.44 989.51 1288.66 986.02 C1289.88 982.52 1290.84 978.82 1291.58 975.51 C1292.32 972.21 1292.85 967.75 1293.1 966.2" fill="none" stroke="#000" stroke-width="3.8" stroke-linejoin="round" stroke-linecap="butt"/>
<path d="M310.2 1727 C315.09 1726.16 329.81 1723.57 339.51 1721.98 C349.22 1720.39 357.46 1719.05 368.44 1717.48 C379.42 1715.91 394.39 1713.95 405.41 1712.55 C416.42 1711.16 424.81 1710.28 434.51 1709.1 C444.22 1707.92 454.88 1706.75 463.64 1705.49 C472.41 1704.23 480.81 1702.76 487.12 1701.52 C493.42 1700.29 493.93 1700.1 501.47 1698.1 C509.02 1696.09 522.45 1692.31 532.39 1689.48 C542.34 1686.65 552.38 1683.79 561.15 1681.13 C569.91 1678.46 578.73 1675.61 584.99 1673.48 C591.24 1671.35 593.59 1670.4 598.68 1668.34 C603.76 1666.29 610.75 1663.34 615.49 1661.17 C620.24 1658.99 622.29 1658.05 627.14 1655.31 C631.99 1652.56 639.71 1647.89 644.58 1644.68 C649.46 1641.46 652.75 1638.91 656.38 1636.03 C660 1633.14 663.47 1629.96 666.35 1627.34 C669.22 1624.73 671.37 1622.59 673.64 1620.34 C675.9 1618.09 677.92 1615.99 679.95 1613.85 C681.97 1611.71 684.82 1608.56 685.8 1607.5" fill="none" stroke="#000" stroke-width="3.8" stroke-linejoin="round" stroke-linecap="butt"/>
<path d="M903.1 1625.5 L964.3 1538.5" fill="none" stroke="#000" stroke-width="1.1" stroke-linejoin="round" stroke-linecap="butt"/>
<path d="M917.3 1639.7 L1002.9 1511.5" fill="none" stroke="#000" stroke-width="1.1" stroke-linejoin="round" stroke-linecap="butt"/>
<path d="M932.2 1650.3 L1038 1490.4" fill="none" stroke="#000" stroke-width="1.1" stroke-linejoin="round" stroke-linecap="butt"/>
<path d="M939.3 1671.6 L1068.2 1478.2" fill="none" stroke="#000" stroke-width="1.1" stroke-linejoin="round" stroke-linecap="butt"/>
<path d="M949.2 1691.4 L1094.1 1481" fill="none" stroke="#000" stroke-width="1.1" stroke-linejoin="round" stroke-linecap="butt"/>
<path d="M962 1707.7 L1136.8 1460.2" fill="none" stroke="#000" stroke-width="1.1" stroke-linejoin="round" stroke-linecap="butt"/>
<path d="M854 1441.6 L1135.5 1441.6 L1140.7 1469.2 L1145.4 1489.6 L1151.7 1516.2 L1158.1 1541 L1163.5 1563.5 L1168.2 1579.2 L1172.1 1594.9 L1174 1605.1 L1174 1815" fill="none" stroke="#000" stroke-width="4.5" stroke-linejoin="miter" stroke-linecap="butt"/>
<path d="M856 1441.6 L1172.3 1718" fill="none" stroke="#000" stroke-width="5" stroke-linejoin="round" stroke-linecap="butt"/>
<path d="M933.2 1441.6 L956.5 1465.3 L986.8 1491.9 L1030 1529.6 L1043.9 1540.5 L1067 1562.7 L1082.7 1576.8 L1098.4 1591.7 L1114.1 1609 L1129.8 1627.8 L1145.4 1647.4 L1158.3 1664.6 L1172.3 1682.2" fill="none" stroke="#000" stroke-width="4.5" stroke-linejoin="round" stroke-linecap="butt"/>
<path d="M983.4 1441.6 L1000.5 1455.9 L1020 1473.9 L1043.5 1494.3 L1068.6 1515.5 L1085.1 1529.6 L1092.9 1540 L1106.2 1558 L1114.1 1569 L1129.8 1592.5 L1145.4 1614.5 L1161.1 1636.4 L1172.9 1652.9" fill="none" stroke="#000" stroke-width="4.5" stroke-linejoin="round" stroke-linecap="butt"/>
<path d="M1039 1441.6 L1053.7 1455.9 L1068.6 1470 L1076.4 1480.2 L1086.6 1499 L1098.4 1519.4 L1108.6 1538.2 L1121.9 1554.9 L1129.8 1566.7 L1137.6 1579.2 L1145.4 1593.3 L1153.3 1606.6 L1161.1 1620 L1172.9 1638.8" fill="none" stroke="#000" stroke-width="4.5" stroke-linejoin="round" stroke-linecap="butt"/>
<path d="M1056 1441.6 L1070.2 1455.9 L1086.6 1470.8 L1102.3 1484.9 L1114.1 1495.9 L1121.1 1508.4 L1129.8 1525.6 L1139.2 1550 L1145.4 1562 L1153.3 1579.2 L1161.1 1594.9 L1169 1610.6 L1173 1621" fill="none" stroke="#000" stroke-width="4.5" stroke-linejoin="round" stroke-linecap="butt"/>
<rect x="1158" y="1541" width="3" height="274" fill="#000"/>
<path d="M1097.4 1770 L1145 1770" fill="none" stroke="#000" stroke-width="1.1" stroke-linejoin="round" stroke-linecap="butt"/>
<path d="M1099.1 1796.3 L1159 1796.3" fill="none" stroke="#000" stroke-width="1.1" stroke-linejoin="round" stroke-linecap="butt"/>
<path d="M1143.1 1766.3 L1158.3 1769.8 L1143.1 1773.5Z" fill="#000"/>
<path d="M1157.5 1792.8 L1172.3 1796.3 L1157.5 1800.4Z" fill="#000"/>
</g>
<g>
<text transform="translate(203.34 161) scale(0.9745 1)" font-size="57.7" font-weight="bold">ZTX454</text>
<text transform="translate(203.34 224) scale(0.9769 1)" font-size="57.7" font-weight="bold">ZTX455</text>
<text transform="translate(425.46 303) scale(0.9334 1)" font-size="43.7" font-weight="bold">TYPICAL</text>
<text transform="translate(610.74 303) scale(0.9363 1)" font-size="43.7" font-weight="bold">CHARACTERISTICS</text>
<text transform="translate(713.78 2019) scale(0.9993 1)" font-size="27.5">3-180</text>
<text transform="translate(163.4 404) scale(1.0000 1)" font-size="18">0.4</text>
<text transform="translate(163.68 471.8) scale(1.0000 1)" font-size="18">0.3</text>
<text transform="translate(163.78 544.5) scale(1.0000 1)" font-size="18">0.2</text>
<text transform="translate(163.75 614.3) scale(1.0000 1)" font-size="18">0.1</text>
<text transform="translate(181.38 684) scale(1.0000 1)" font-size="18">0</text>
<text transform="translate(296.13 697) scale(0.9528 1)" font-size="18">0.001</text>
<text transform="translate(421.37 698) scale(0.8969 1)" font-size="18">0.01</text>
<text transform="translate(549.19 698.9) scale(0.8699 1)" font-size="18">0.1</text>
<path d="M684.67 687.2 L686 687.2 L686 699.9 L684.67 699.9 L684.67 691.01 L684.67 687.2 Z" fill="#000"/>
<path d="M681.9 690.5 L681.9 688.98 L684.77 688.98 L684.77 690.5 Z" fill="#000"/>
<text transform="translate(355 506.8) scale(0.9335 1)" font-size="19.8">I<tspan font-size="14">C</tspan>/I<tspan font-size="14">B</tspan>=10</text>
<text transform="translate(146.6 605.29) rotate(-90) scale(0.9200 1)" font-size="24.4">V<tspan font-size="19.3">CE</tspan></text>
<text transform="translate(146.6 566.38) rotate(-90) scale(0.9193 1)" font-size="24.4"><tspan font-size="19.3">(sat)</tspan></text>
<text transform="translate(146.6 507.82) rotate(-90) scale(0.8788 1)" font-size="24.4">(Volts)</text>
<rect x="139.3" y="518.7" width="1.3" height="3.3" fill="#000"/>
<text transform="translate(278.43 761.1) scale(0.8754 1)" font-size="24.4">I<tspan font-size="17.4">C</tspan></text>
<text transform="translate(300.16 761.1) scale(0.8703 1)" font-size="24.4">-</text>
<text transform="translate(313.67 761.1) scale(1.0013 1)" font-size="24.4">Collector</text>
<text transform="translate(416.77 761.1) scale(1.0037 1)" font-size="24.4">Current</text>
<text transform="translate(505 761.1) scale(1.0010 1)" font-size="24.4">(Amps)</text>
<text transform="translate(366.42 823.5) scale(1.0404 1)" font-size="27.3" font-weight="bold">V<tspan font-size="19.6">CE</tspan></text>
<text transform="translate(414.04 823.5) scale(1.1939 1)" font-size="27.3" font-weight="bold"><tspan font-size="19.6">(sat)</tspan></text>
<text transform="translate(471.31 823.5) scale(0.8548 1)" font-size="27.3" font-weight="bold">v</text>
<text transform="translate(492.34 823.5) scale(0.9620 1)" font-size="27.3" font-weight="bold">I</text>
<text transform="translate(499.72 823.5) scale(1.2242 1)" font-size="27.3" font-weight="bold"><tspan font-size="19.6">C</tspan></text>
<text transform="translate(834.98 331.6) scale(1.0804 1)" font-size="14.3">tf</text>
<text transform="translate(834.98 349.7) scale(0.9670 1)" font-size="14.3">ns</text>
<text transform="translate(829.09 367) scale(0.9316 1)" font-size="14.3">900</text>
<text transform="translate(794.11 390.1) scale(0.9277 1)" font-size="14.3">tr</text>
<text transform="translate(794.13 406.7) scale(0.9158 1)" font-size="14.3">ns</text>
<text transform="translate(790.19 420.6) scale(0.9319 1)" font-size="14.3">500</text>
<text transform="translate(829.14 420.6) scale(0.9295 1)" font-size="14.3">800</text>
<text transform="translate(788.7 470.7) scale(0.9314 1)" font-size="14.3">400</text>
<text transform="translate(828.51 470.7) scale(0.9568 1)" font-size="14.3">700</text>
<text transform="translate(788.51 525.3) scale(0.9396 1)" font-size="14.3">300</text>
<text transform="translate(827.99 525.3) scale(0.9790 1)" font-size="14.3">600</text>
<text transform="translate(791.23 573.8) scale(0.9558 1)" font-size="14.3">200</text>
<text transform="translate(831.09 573.8) scale(0.9275 1)" font-size="14.3">500</text>
<text transform="translate(790.89 628.7) scale(0.9404 1)" font-size="14.3">100</text>
<text transform="translate(830.79 628.7) scale(0.9402 1)" font-size="14.3">400</text>
<text transform="translate(803.42 673.2) scale(0.8759 1)" font-size="14.3">0</text>
<text transform="translate(830.6 678) scale(0.9484 1)" font-size="14.3">300</text>
<text transform="translate(1275.81 349.6) scale(0.9688 1)" font-size="14.3">ts</text>
<text transform="translate(1275.52 367.4) scale(1.0077 1)" font-size="14.3">µS</text>
<text transform="translate(1275.83 387.3) scale(0.9195 1)" font-size="14.3">7</text>
<text transform="translate(1275.29 431.1) scale(0.9848 1)" font-size="14.3">6</text>
<text transform="translate(1275.48 471.5) scale(0.9524 1)" font-size="14.3">5</text>
<text transform="translate(1275.49 514.3) scale(0.9550 1)" font-size="14.3">4</text>
<text transform="translate(1275.5 555.7) scale(0.9559 1)" font-size="14.3">3</text>
<text transform="translate(1272.92 596.6) scale(0.9771 1)" font-size="14.3">2</text>
<path d="M1279.5 630.6 L1280.8 630.6 L1280.8 640.6 L1279.5 640.6 L1279.5 633.6 L1279.5 630.6 Z" fill="#000"/>
<path d="M1276.9 633.2 L1276.9 632 L1279.6 632 L1279.6 633.2 Z" fill="#000"/>
<text transform="translate(1275.48 680) scale(0.9489 1)" font-size="14.3">0</text>
<text transform="translate(1314.31 537.7) scale(0.9700 1)" font-size="14.3">td</text>
<text transform="translate(1313.54 555.7) scale(1.0126 1)" font-size="14.3">nS</text>
<text transform="translate(1309.78 580.9) scale(0.9449 1)" font-size="14.3">100</text>
<text transform="translate(1316.06 629) scale(0.9730 1)" font-size="14.3">50</text>
<text transform="translate(1320.38 680) scale(0.9489 1)" font-size="14.3">0</text>
<text transform="translate(845.08 695.2) scale(0.9474 1)" font-size="14.3">0.01</text>
<text transform="translate(1053.99 695.2) scale(0.9223 1)" font-size="14.3">0.1</text>
<path d="M1270.3 686.4 L1271.6 686.4 L1271.6 696.4 L1270.3 696.4 L1270.3 689.4 L1270.3 686.4 Z" fill="#000"/>
<path d="M1267.3 689 L1267.3 687.8 L1270.4 687.8 L1270.4 689 Z" fill="#000"/>
<text transform="translate(1108.08 394.6) scale(1.0804 1)" font-size="14.3">tf</text>
<text transform="translate(935.21 440.5) scale(0.9592 1)" font-size="14.3">ts</text>
<text transform="translate(1194.42 508.2) scale(0.8916 1)" font-size="14.3">tr</text>
<text transform="translate(941.48 646.6) scale(1.1178 1)" font-size="14.3">td</text>
<text transform="translate(771.6 605.11) rotate(-90) scale(0.9207 1)" font-size="24.4">Switching</text>
<text transform="translate(771.6 501.33) rotate(-90) scale(0.9558 1)" font-size="24.4">time</text>
<text transform="translate(1065.11 446.8) scale(0.9274 1)" font-size="20">I<tspan font-size="14">B1</tspan>=I<tspan font-size="14">B2</tspan>=I<tspan font-size="14">C</tspan>/10</text>
<text transform="translate(1081.03 469) scale(0.9121 1)" font-size="20">V<tspan font-size="14">CE</tspan>=10V</text>
<text transform="translate(912.63 761) scale(0.8754 1)" font-size="24.4">I<tspan font-size="17.4">C</tspan></text>
<text transform="translate(934.36 761) scale(0.8703 1)" font-size="24.4">-</text>
<text transform="translate(947.87 761) scale(1.0013 1)" font-size="24.4">Collector</text>
<text transform="translate(1050.97 761) scale(1.0037 1)" font-size="24.4">Current</text>
<text transform="translate(1139.2 761) scale(1.0010 1)" font-size="24.4">(Amps)</text>
<text transform="translate(906.91 823.8) scale(0.9771 1)" font-size="27.3" font-weight="bold">Typical</text>
<text transform="translate(1007.13 823.8) scale(0.9970 1)" font-size="27.3" font-weight="bold">Switching</text>
<text transform="translate(1144.03 823.8) scale(0.9926 1)" font-size="27.3" font-weight="bold">Speeds</text>
<text transform="translate(177.28 939.8) scale(0.9759 1)" font-size="18">100</text>
<text transform="translate(183.6 1004.2) scale(1.0350 1)" font-size="18">80</text>
<text transform="translate(183.46 1067) scale(1.0421 1)" font-size="18">60</text>
<text transform="translate(185.19 1130.3) scale(1.0145 1)" font-size="18">40</text>
<text transform="translate(184.66 1193.5) scale(1.0421 1)" font-size="18">20</text>
<text transform="translate(196.21 1270.7) scale(0.9804 1)" font-size="18">0.001</text>
<text transform="translate(323.16 1271.6) scale(0.9118 1)" font-size="18">0.01</text>
<text transform="translate(444.35 1271.6) scale(0.9296 1)" font-size="18">0.1</text>
<path d="M579.56 1259 L580.9 1259 L580.9 1271.8 L579.56 1271.8 L579.56 1262.84 L579.56 1259 Z" fill="#000"/>
<path d="M575.3 1262.33 L575.3 1260.79 L579.66 1260.79 L579.66 1262.33 Z" fill="#000"/>
<text transform="translate(693.73 1271.8) scale(0.9402 1)" font-size="18">10</text>
<text transform="translate(339.83 1048.2) scale(0.8967 1)" font-size="20.3">V<tspan font-size="14.5">CE</tspan>=10V</text>
<text transform="translate(148.2 1236.67) rotate(-90) scale(0.9992 1)" font-size="24.4">h<tspan font-size="17.1">FE</tspan></text>
<text transform="translate(148.2 1183.34) rotate(-90) scale(0.9712 1)" font-size="24.4">Normalised</text>
<text transform="translate(148.2 1058.44) rotate(-90) scale(0.9333 1)" font-size="24.4">Gain</text>
<text transform="translate(148.2 1005.68) rotate(-90) scale(0.9213 1)" font-size="24.4">(%)</text>
<rect x="140.9" y="1191.3" width="1.3" height="4.4" fill="#000"/>
<text transform="translate(278.43 1321.8) scale(0.8754 1)" font-size="24.4">I<tspan font-size="17.4">C</tspan></text>
<text transform="translate(300.16 1321.8) scale(0.8703 1)" font-size="24.4">-</text>
<text transform="translate(313.67 1321.8) scale(1.0013 1)" font-size="24.4">Collector</text>
<text transform="translate(416.77 1321.8) scale(1.0037 1)" font-size="24.4">Current</text>
<text transform="translate(505 1321.8) scale(1.0010 1)" font-size="24.4">(Amps)</text>
<text transform="translate(386.82 1371.8) scale(1.0953 1)" font-size="27.3" font-weight="bold">h<tspan font-size="19.6">FE</tspan></text>
<text transform="translate(441.01 1371.8) scale(0.8881 1)" font-size="27.3" font-weight="bold">v</text>
<text transform="translate(461.77 1371.8) scale(1.1139 1)" font-size="27.3" font-weight="bold">I</text>
<text transform="translate(469.95 1371.8) scale(1.1930 1)" font-size="27.3" font-weight="bold"><tspan font-size="19.6">C</tspan></text>
<text transform="translate(806.27 973.8) scale(1.0000 1)" font-size="18">1.0</text>
<text transform="translate(806.35 1043.6) scale(1.0000 1)" font-size="18">0.8</text>
<text transform="translate(806.38 1113.2) scale(1.0000 1)" font-size="18">0.6</text>
<text transform="translate(806.1 1182.8) scale(1.0000 1)" font-size="18">0.4</text>
<text transform="translate(806.48 1253) scale(1.0000 1)" font-size="18">0.2</text>
<text transform="translate(932.92 1265) scale(0.9712 1)" font-size="18">0.001</text>
<text transform="translate(1057.45 1265.7) scale(0.9238 1)" font-size="18">0.01</text>
<text transform="translate(1187.57 1265.7) scale(0.8955 1)" font-size="18">0.1</text>
<path d="M1319.88 1252.4 L1321.2 1252.4 L1321.2 1265 L1319.88 1265 L1319.88 1256.18 L1319.88 1252.4 Z" fill="#000"/>
<path d="M1315.8 1255.68 L1315.8 1254.16 L1319.98 1254.16 L1319.98 1255.68 Z" fill="#000"/>
<text transform="translate(969.23 999) scale(0.9141 1)" font-size="19.8">I<tspan font-size="14">C</tspan>/I<tspan font-size="14">B</tspan>=10</text>
<text transform="translate(774.6 1192.39) rotate(-90) scale(0.9299 1)" font-size="24.4">V<tspan font-size="18.7">BE</tspan></text>
<text transform="translate(774.6 1154.79) rotate(-90) scale(1.0342 1)" font-size="24.4"><tspan font-size="18.7">(sat)</tspan></text>
<text transform="translate(774.6 1096.37) rotate(-90) scale(0.9114 1)" font-size="24.4">(Volts)</text>
<rect x="767.3" y="1106.1" width="1.3" height="4.1" fill="#000"/>
<text transform="translate(912.63 1321.8) scale(0.8754 1)" font-size="24.4">I<tspan font-size="17.4">C</tspan></text>
<text transform="translate(934.36 1321.8) scale(0.8703 1)" font-size="24.4">-</text>
<text transform="translate(947.87 1321.8) scale(1.0013 1)" font-size="24.4">Collector</text>
<text transform="translate(1050.97 1321.8) scale(1.0037 1)" font-size="24.4">Current</text>
<text transform="translate(1139.2 1321.8) scale(1.0010 1)" font-size="24.4">(Amps)</text>
<text transform="translate(996.41 1371.8) scale(1.0584 1)" font-size="27.3" font-weight="bold">V<tspan font-size="19.6">BE</tspan></text>
<text transform="translate(1044.34 1371.8) scale(1.1939 1)" font-size="27.3" font-weight="bold"><tspan font-size="19.6">(sat)</tspan></text>
<text transform="translate(1101.61 1371.8) scale(0.8548 1)" font-size="27.3" font-weight="bold">v</text>
<text transform="translate(1122.9 1371.8) scale(0.9873 1)" font-size="27.3" font-weight="bold">I</text>
<text transform="translate(1130.15 1371.8) scale(1.1930 1)" font-size="27.3" font-weight="bold"><tspan font-size="19.6">C</tspan></text>
<text transform="translate(181.97 1508.7) scale(1.0000 1)" font-size="18">1.2</text>
<text transform="translate(181.78 1578.6) scale(1.0000 1)" font-size="18">1.0</text>
<text transform="translate(181.85 1648.9) scale(1.0000 1)" font-size="18">0.8</text>
<text transform="translate(181.88 1718.5) scale(1.0000 1)" font-size="18">0.6</text>
<text transform="translate(181.6 1790) scale(1.0000 1)" font-size="18">0.4</text>
<text transform="translate(284.13 1802) scale(0.9635 1)" font-size="18">0.0001</text>
<text transform="translate(381.73 1802) scale(0.9597 1)" font-size="18">0.001</text>
<text transform="translate(480.83 1803.2) scale(0.9596 1)" font-size="18">0.01</text>
<text transform="translate(586.76 1803.2) scale(0.9211 1)" font-size="18">0.1</text>
<path d="M696.76 1791 L698.1 1791 L698.1 1803.8 L696.76 1803.8 L696.76 1794.84 L696.76 1791 Z" fill="#000"/>
<path d="M694 1794.33 L694 1792.79 L696.86 1792.79 L696.86 1794.33 Z" fill="#000"/>
<text transform="translate(353.73 1551.9) scale(0.8979 1)" font-size="20.3">V<tspan font-size="14.5">CE</tspan>=10V</text>
<text transform="translate(150 1694.59) rotate(-90) scale(0.9275 1)" font-size="24.4">V<tspan font-size="18.7">BE</tspan></text>
<text transform="translate(150 1638.1) rotate(-90) scale(0.9307 1)" font-size="24.4">(Volts)</text>
<rect x="142.7" y="1646.4" width="1.3" height="4.2" fill="#000"/>
<text transform="translate(275.63 1866.1) scale(0.8754 1)" font-size="24.4">I<tspan font-size="17.4">C</tspan></text>
<text transform="translate(297.36 1866.1) scale(0.8703 1)" font-size="24.4">-</text>
<text transform="translate(310.87 1866.1) scale(1.0013 1)" font-size="24.4">Collector</text>
<text transform="translate(413.97 1866.1) scale(1.0037 1)" font-size="24.4">Current</text>
<text transform="translate(502.2 1866.1) scale(1.0010 1)" font-size="24.4">(Amps)</text>
<text transform="translate(361.42 1915.8) scale(1.0472 1)" font-size="27.3" font-weight="bold">V<tspan font-size="19.6">BE</tspan></text>
<text transform="translate(409.33 1915.8) scale(1.1974 1)" font-size="27.3" font-weight="bold"><tspan font-size="19.6">(on)</tspan></text>
<text transform="translate(461.41 1915.8) scale(0.8681 1)" font-size="27.3" font-weight="bold">v</text>
<text transform="translate(482.61 1915.8) scale(1.0380 1)" font-size="27.3" font-weight="bold">I</text>
<text transform="translate(490.05 1915.8) scale(1.1852 1)" font-size="27.3" font-weight="bold"><tspan font-size="19.6">C</tspan></text>
<text transform="translate(869.38 1637.6) scale(1.0408 1)" font-size="13.4">D.C.</text>
<text transform="translate(882.03 1652.5) scale(0.9704 1)" font-size="13.4">1s</text>
<text transform="translate(890.11 1670.2) scale(0.9858 1)" font-size="13.4">100ms</text>
<text transform="translate(900.69 1685.5) scale(1.0064 1)" font-size="13.4">10ms</text>
<text transform="translate(909.2 1703.2) scale(1.0050 1)" font-size="13.4">1.0ms</text>
<text transform="translate(928.83 1720.5) scale(0.9717 1)" font-size="13.4">100µs</text>
<text transform="translate(1045.69 1776.4) scale(0.9755 1)" font-size="13.4">ZTX454</text>
<text transform="translate(1048.98 1801.6) scale(0.9984 1)" font-size="13.4">ZTX455</text>
<path d="M841.75 1436 L843.1 1436 L843.1 1448.9 L841.75 1448.9 L841.75 1439.87 L841.75 1436 Z" fill="#000"/>
<path d="M838.9 1439.35 L838.9 1437.81 L841.85 1437.81 L841.85 1439.35 Z" fill="#000"/>
<text transform="translate(820.81 1574.3) scale(0.9851 1)" font-size="18">0.1</text>
<text transform="translate(813.26 1703.1) scale(0.9178 1)" font-size="18">0.01</text>
<text transform="translate(804.57 1821.1) scale(0.9068 1)" font-size="18">0.001</text>
<path d="M856.38 1825.8 L857.7 1825.8 L857.7 1838.4 L856.38 1838.4 L856.38 1829.58 L856.38 1825.8 Z" fill="#000"/>
<path d="M851.5 1829.08 L851.5 1827.56 L856.48 1827.56 L856.48 1829.08 Z" fill="#000"/>
<text transform="translate(991.7 1838.4) scale(0.9624 1)" font-size="18">10</text>
<text transform="translate(1135.32 1838.4) scale(0.9508 1)" font-size="18">100</text>
<text transform="translate(1279.98 1838.4) scale(0.9796 1)" font-size="18">1000</text>
<text transform="translate(954.16 1433.5) scale(0.9886 1)" font-size="18.8">Single</text>
<text transform="translate(1010.49 1433.5) scale(0.9871 1)" font-size="18.8">Pulse</text>
<text transform="translate(1060.43 1433.5) scale(0.9250 1)" font-size="18.8">Test</text>
<text transform="translate(1099.49 1433.5) scale(0.9137 1)" font-size="18.8">at</text>
<text transform="translate(1118.54 1433.5) scale(1.1451 1)" font-size="18.8">T<tspan font-size="11.2">amb</tspan></text>
<text transform="translate(1155.83 1433.5) scale(0.9713 1)" font-size="18.8">=25°C</text>
<text transform="translate(772.6 1765.47) rotate(-90) scale(0.8754 1)" font-size="24.4">I<tspan font-size="17.4">C</tspan></text>
<text transform="translate(772.6 1725.7) rotate(-90) scale(0.9802 1)" font-size="24.4">Collector</text>
<text transform="translate(772.6 1624.96) rotate(-90) scale(0.9500 1)" font-size="24.4">Current</text>
<text transform="translate(772.6 1541.19) rotate(-90) scale(0.8608 1)" font-size="24.4">(Amps)</text>
<rect x="765.3" y="1733.3" width="1.3" height="4" fill="#000"/>
<text transform="translate(897.1 1865.5) scale(0.9876 1)" font-size="24.4">V<tspan font-size="13.4">CE</tspan></text>
<text transform="translate(935.88 1865.5) scale(0.8536 1)" font-size="24.4">-</text>
<text transform="translate(950.08 1865.5) scale(0.9939 1)" font-size="24.4">Collector</text>
<text transform="translate(1053.9 1865.5) scale(0.9660 1)" font-size="24.4">Voltage</text>
<text transform="translate(1140.75 1865.5) scale(0.9663 1)" font-size="24.4">(Volts)</text>
<text transform="translate(923.92 1915.3) scale(1.0080 1)" font-size="27.3" font-weight="bold">Safe</text>
<text transform="translate(989.91 1915.3) scale(0.9899 1)" font-size="27.3" font-weight="bold">Operating</text>
<text transform="translate(1126.76 1915.3) scale(0.9431 1)" font-size="27.3" font-weight="bold">Area</text>
</g>
</svg>
</body></html>
